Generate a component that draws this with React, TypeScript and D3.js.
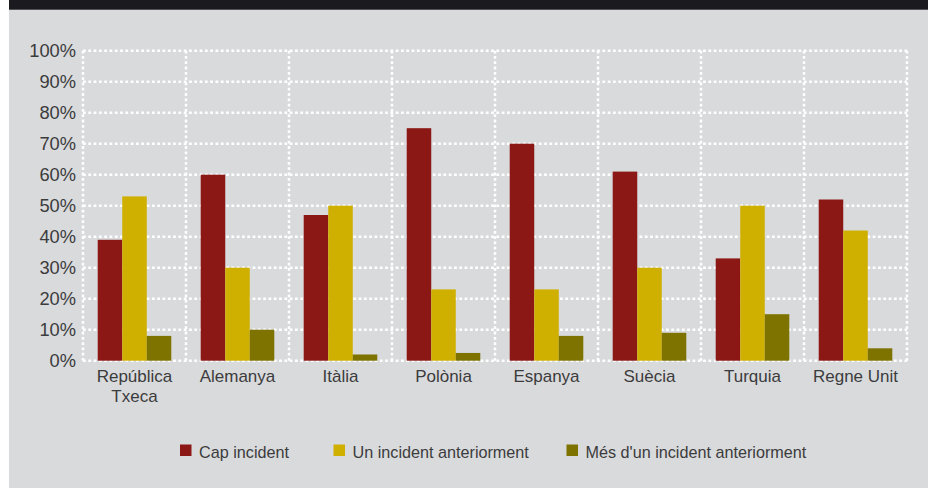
import React from "react";
import * as d3 from "d3";

const categories = ["República\nTxeca", "Alemanya", "Itàlia", "Polònia", "Espanya", "Suècia", "Turquia", "Regne Unit"];
const seriesNames = ["Cap incident", "Un incident anteriorment", "Més d'un incident anteriorment"];
const capIncident = [39, 60, 47, 75, 70, 61, 33, 52];
const unIncident = [53, 30, 50, 23, 23, 30, 50, 42];
const mesIncident = [8, 10, 2, 2.5, 8, 9, 15, 4];
const yTicks = [0, 10, 20, 30, 40, 50, 60, 70, 80, 90, 100];
const colors = ["#8B1815", "#CFB000", "#7F7300"];

const W = 928;
const H = 488;
const margin = { left: 83, right: 21, top: 50.7, bottom: 127.3 };

export default function App() {
  const series = [capIncident, unIncident, mesIncident];
  const x = d3.scaleBand<number>().domain(d3.range(categories.length)).range([margin.left, W - margin.right]).paddingInner(0).paddingOuter(0);
  const y = d3.scaleLinear().domain([0, 100]).range([H - margin.bottom, margin.top]);
  const bw = x.bandwidth();
  const inner = d3.scaleBand<number>().domain([0, 1, 2]).range([0, bw]).paddingOuter(0.6).paddingInner(0);
  const textColor = "#3c3c3c";
  const font = "'Liberation Sans', Arial, sans-serif";
  const legendX = [180, 333.5, 566.5];
  const gridStyle = { stroke: "#ffffff", strokeWidth: 2.5, strokeDasharray: "2.8 2.5", fill: "none" };

  return (
    <svg width={W} height={H} style={{ position: "absolute", left: 0, top: 0 }} fontFamily={font}>
      <rect x={0} y={0} width={W} height={H} fill="#ffffff" />
      <rect x={9} y={0} width={W - 9} height={H} fill="#D9DADC" />
      <rect x={9} y={0} width={W - 9} height={9.7} fill="#1B1A1F" />
      {yTicks.map((t) => (
        <line key={"h" + t} x1={margin.left} x2={W - margin.right} y1={y(t)} y2={y(t)} style={gridStyle} />
      ))}
      {d3.range(categories.length + 1).map((i) => {
        const gx = i < categories.length ? (x(i) as number) : (x(categories.length - 1) as number) + bw;
        return <line key={"v" + i} x1={gx} x2={gx} y1={y(100)} y2={y(0)} style={gridStyle} />;
      })}
      {series.map((vals, si) =>
        vals.map((v, ci) => (
          <rect
            key={si + "-" + ci}
            x={(x(ci) as number) + (inner(si) as number)}
            y={y(v)}
            width={inner.bandwidth()}
            height={y(0) - y(v)}
            fill={colors[si]}
          />
        ))
      )}
      {yTicks.map((t) => (
        <text key={"t" + t} x={76} y={y(t)} dy="0.36em" textAnchor="end" fontSize={18.3} fill={textColor}>
          {t + "%"}
        </text>
      ))}
      {categories.map((c, i) => (
        <text key={"c" + i} textAnchor="middle" fontSize={17} fill={textColor}>
          {c.split("\n").map((line, li) => (
            <tspan key={li} x={(x(i) as number) + bw / 2} y={381.7 + li * 20}>
              {line}
            </tspan>
          ))}
        </text>
      ))}
      {seriesNames.map((n, i) => (
        <g key={"l" + i}>
          <rect x={legendX[i]} y={444.5} width={11.5} height={11.5} fill={colors[i]} />
          <text x={legendX[i] + 19} y={457.5} fontSize={16.2} fill={textColor}>
            {n}
          </text>
        </g>
      ))}
    </svg>
  );
}
